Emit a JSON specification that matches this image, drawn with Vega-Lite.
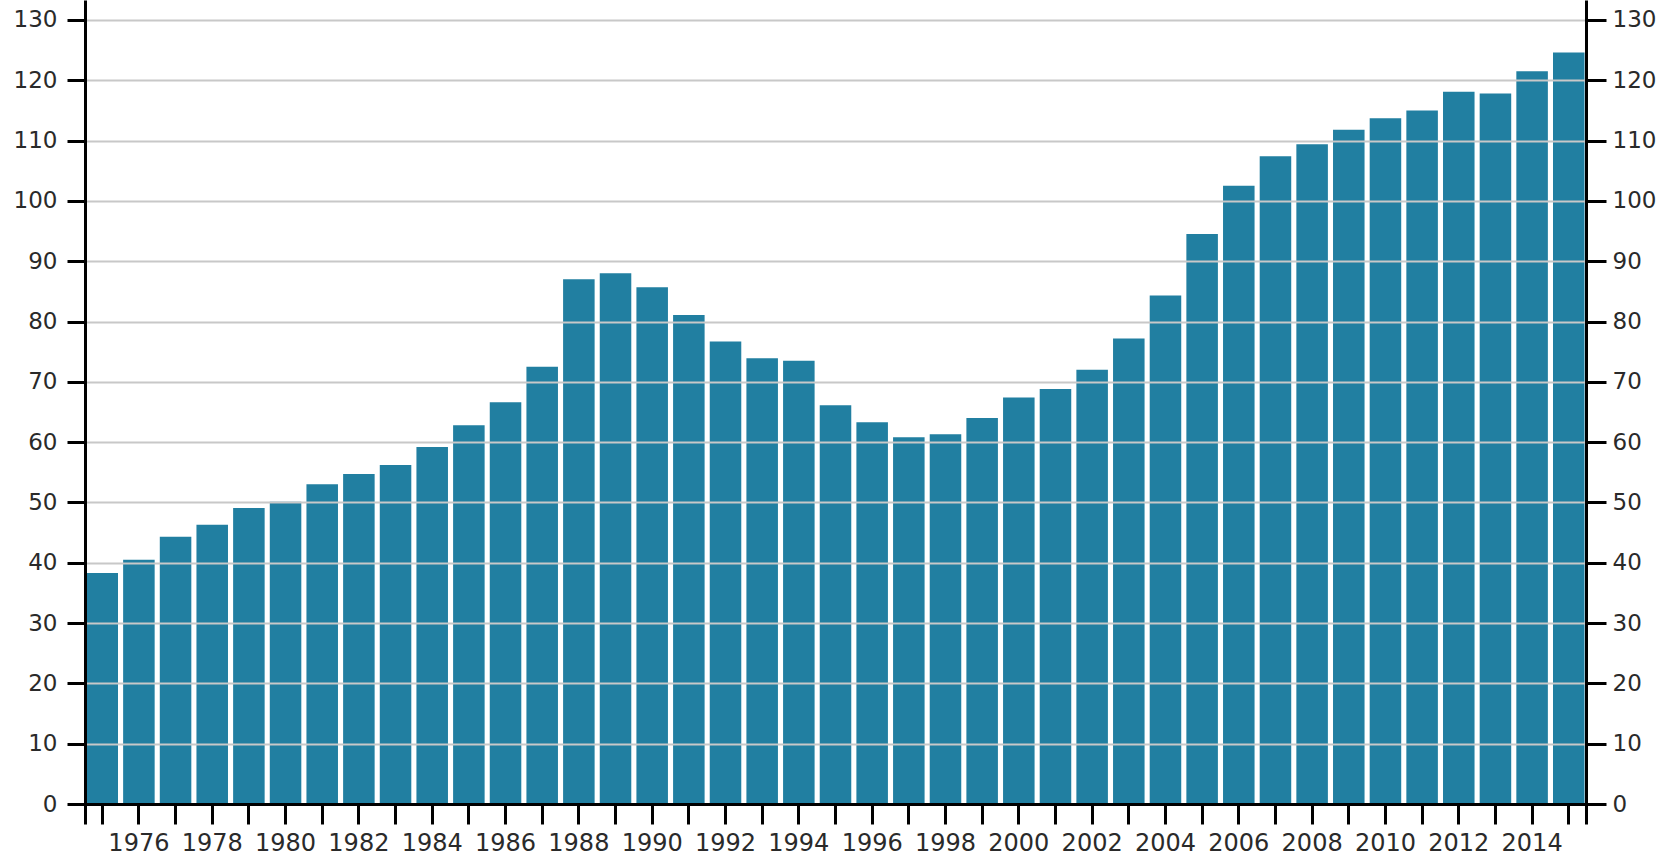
{
  "$schema": "https://vega.github.io/schema/vega-lite/v6.json",
  "width": 1501,
  "height": 824,
  "autosize": {"type": "none"},
  "padding": {"left": 85, "top": 0, "right": 86, "bottom": 33},
  "background": "white",
  "config": {
    "view": {"stroke": null},
    "font": "DejaVu Sans",
    "axis": {
      "domainColor": "#000000",
      "domainWidth": 3,
      "tickColor": "#000000",
      "tickWidth": 3,
      "labelFont": "DejaVu Sans",
      "labelFontSize": 23,
      "labelColor": "#2a2a2a",
      "title": null
    }
  },
  "data": {
    "values": [
      {"year": 1975, "value": 38.3},
      {"year": 1976, "value": 40.5},
      {"year": 1977, "value": 44.3},
      {"year": 1978, "value": 46.3},
      {"year": 1979, "value": 49.1},
      {"year": 1980, "value": 50.1},
      {"year": 1981, "value": 53.0},
      {"year": 1982, "value": 54.7},
      {"year": 1983, "value": 56.2},
      {"year": 1984, "value": 59.2},
      {"year": 1985, "value": 62.8},
      {"year": 1986, "value": 66.6},
      {"year": 1987, "value": 72.5},
      {"year": 1988, "value": 87.0},
      {"year": 1989, "value": 88.0},
      {"year": 1990, "value": 85.7},
      {"year": 1991, "value": 81.1},
      {"year": 1992, "value": 76.7},
      {"year": 1993, "value": 73.9},
      {"year": 1994, "value": 73.5},
      {"year": 1995, "value": 66.1},
      {"year": 1996, "value": 63.3},
      {"year": 1997, "value": 60.8},
      {"year": 1998, "value": 61.3},
      {"year": 1999, "value": 64.0},
      {"year": 2000, "value": 67.4},
      {"year": 2001, "value": 68.8},
      {"year": 2002, "value": 72.0},
      {"year": 2003, "value": 77.2},
      {"year": 2004, "value": 84.3},
      {"year": 2005, "value": 94.5},
      {"year": 2006, "value": 102.5},
      {"year": 2007, "value": 107.4},
      {"year": 2008, "value": 109.4},
      {"year": 2009, "value": 111.8},
      {"year": 2010, "value": 113.7},
      {"year": 2011, "value": 115.0},
      {"year": 2012, "value": 118.1},
      {"year": 2013, "value": 117.8},
      {"year": 2014, "value": 121.5},
      {"year": 2015, "value": 124.6}
    ]
  },
  "layer": [
    {
      "mark": {"type": "bar", "color": "#217fa1"},
      "encoding": {
        "x": {
          "field": "year",
          "type": "ordinal",
          "scale": {"paddingInner": 0.14, "paddingOuter": 0.04},
          "axis": {
            "orient": "bottom",
            "offset": -20,
            "tickSize": 20,
            "labelPadding": 7,
            "labelFontSize": 24,
            "labelAngle": 0,
            "labelOverlap": false,
            "labelExpr": "datum.value % 2 == 0 ? datum.label : ''",
            "zindex": 2
          }
        },
        "y": {
          "field": "value",
          "type": "quantitative",
          "scale": {"domain": [-3.316, 133.316], "nice": false},
          "axis": {
            "orient": "left",
            "values": [0, 10, 20, 30, 40, 50, 60, 70, 80, 90, 100, 110, 120, 130],
            "tickSize": 18,
            "labelPadding": 10,
            "grid": true,
            "gridColor": "#c8c8c8",
            "gridWidth": 2,
            "zindex": 1
          }
        },
        "y2": {"datum": 0}
      }
    },
    {
      "mark": {"type": "bar", "opacity": 0},
      "encoding": {
        "x": {"field": "year", "type": "ordinal"},
        "y": {
          "field": "value",
          "type": "quantitative",
          "axis": {
            "orient": "right",
            "values": [0, 10, 20, 30, 40, 50, 60, 70, 80, 90, 100, 110, 120, 130],
            "tickSize": 20,
            "labelPadding": 6,
            "grid": false,
            "zindex": 1
          }
        },
        "y2": {"datum": 0}
      }
    }
  ],
  "resolve": {"axis": {"y": "independent"}}
}
